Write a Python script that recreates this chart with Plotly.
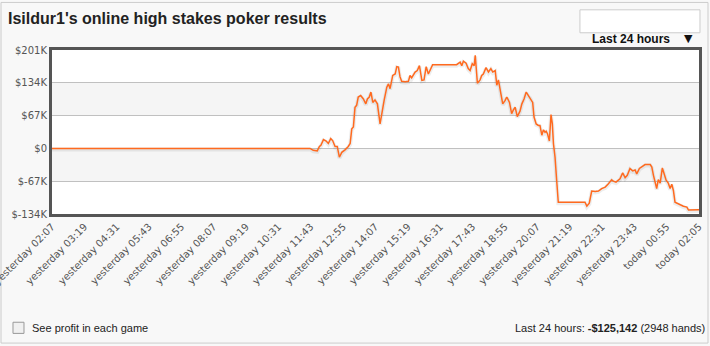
import plotly.graph_objects as go

# hours since "yesterday 02:07"
hours = [0, 9.32, 9.57, 9.69, 9.84, 9.92, 9.97, 10.07, 10.17, 10.25, 10.34, 10.41, 10.50, 10.58,
         10.66, 10.75, 10.87, 10.99, 11.06, 11.12, 11.18, 11.24, 11.30, 11.36, 11.45, 11.55,
         11.64, 11.70, 11.77, 11.83, 11.90, 11.98, 12.07, 12.17, 12.23, 12.32, 12.42, 12.48,
         12.54, 12.64, 12.73, 12.79, 12.85, 12.91, 12.97, 13.10, 13.22, 13.28, 13.34, 13.47,
         13.55, 13.63, 13.72, 13.80, 13.88, 13.96, 14.12, 15.01, 15.14, 15.20, 15.26, 15.36,
         15.44, 15.51, 15.59, 15.66, 15.70, 15.78, 15.88, 15.94, 16.00, 16.10, 16.19, 16.28,
         16.35, 16.44, 16.50, 16.56, 16.65, 16.72, 16.81, 16.87, 16.97, 17.05, 17.11, 17.18,
         17.26, 17.36, 17.43, 17.51, 17.59, 17.67, 17.73, 17.83, 17.88, 17.96, 18.04, 18.10,
         18.17, 18.23, 18.29, 18.33, 18.38, 18.45, 18.51, 18.56, 18.60, 18.66, 18.72, 18.78,
         19.77, 19.84, 19.93, 20.02, 20.15, 20.27, 20.39, 20.52, 20.64, 20.76, 20.82, 20.92,
         21.07, 21.17, 21.26, 21.34, 21.44, 21.54, 21.63, 21.69, 21.79, 21.88, 22.00, 22.19,
         22.25, 22.31, 22.43, 22.49, 22.56, 22.64, 22.71, 22.78, 22.86, 22.93, 22.99, 23.05,
         23.11, 23.24, 23.42, 23.55, 23.61, 24.0]

# cumulative profit, thousands of dollars
profit_k = [0, 0, 0, -4, -5, 4, 6, 18, 15, 10, 20, 16, 4, 4,
            -18, -8, -3, 4, 10, 40, 44, 84, 88, 105, 108, 101,
            91, 101, 105, 115, 94, 99, 91, 50, 71, 98, 125, 132,
            122, 149, 152, 167, 166, 146, 137, 136, 137, 149, 144, 156,
            159, 169, 139, 140, 167, 152, 171, 171, 176, 169, 178, 174,
            163, 159, 173, 169, 190, 133, 140, 149, 152, 165, 156, 163,
            156, 159, 129, 140, 112, 91, 98, 105, 94, 71, 78, 84,
            65, 76, 91, 101, 115, 108, 105, 94, 64, 50, 47, 47,
            27, 38, 33, 35, 30, 15, 69, 50, 10, -18, -65, -110,
            -110, -118, -112, -87, -88, -87, -82, -79, -72, -64, -67, -69,
            -62, -50, -60, -55, -41, -46, -44, -52, -41, -38, -33, -33,
            -38, -55, -82, -64, -71, -40, -55, -65, -71, -82, -73, -86,
            -110, -114, -118, -120, -126, -125.142]

tick_hours = [i * 1.2 for i in range(21)]
tick_labels = ["yesterday 02:07", "yesterday 03:19", "yesterday 04:31", "yesterday 05:43",
               "yesterday 06:55", "yesterday 08:07", "yesterday 09:19", "yesterday 10:31",
               "yesterday 11:43", "yesterday 12:55", "yesterday 14:07", "yesterday 15:19",
               "yesterday 16:31", "yesterday 17:43", "yesterday 18:55", "yesterday 20:07",
               "yesterday 21:19", "yesterday 22:31", "yesterday 23:43", "today 00:55",
               "today 02:05"]
y_ticks = [-134, -67, 0, 67, 134, 201]
y_labels = ["$-134K", "$-67K", "$0", "$67K", "$134K", "$201K"]
bands = [(67, 134), (-67, 0)]

fig = go.Figure()
# soft shadow
fig.add_trace(go.Scatter(x=hours, y=[v - 2 for v in profit_k], mode="lines",
                         line=dict(color="rgba(0,0,0,0.07)", width=4), hoverinfo="skip"))
fig.add_trace(go.Scatter(x=hours, y=profit_k, mode="lines",
                         line=dict(color="#ff6a1f", width=1.5)))

shapes = []
for lo, hi in bands:
    shapes.append(dict(type="rect", xref="paper", yref="y", x0=0, x1=1, y0=lo, y1=hi,
                       fillcolor="#f5f5f5", line=dict(width=0), layer="below"))
# outer panel border
shapes.append(dict(type="rect", xref="paper", yref="paper", x0=-0.0788, x1=1.0139,
                   y0=-0.787, y1=1.29, line=dict(color="#cccccc", width=1), layer="below"))
# dropdown box
shapes.append(dict(type="rect", xref="paper", yref="paper", x0=0.816, x1=1.0015,
                   y0=1.105, y1=1.245, fillcolor="white", line=dict(color="#cccccc", width=1)))
# checkbox
shapes.append(dict(type="rect", xref="paper", yref="paper", x0=-0.0603, x1=-0.0433,
                   y0=-0.728, y1=-0.66, fillcolor="#f0f0f0", line=dict(color="#999999", width=1)))

annotations = [
    dict(text="<b>Isildur1's online high stakes poker results</b>", xref="paper", yref="paper",
         x=-0.0705, y=1.195, xanchor="left", yanchor="middle", showarrow=False,
         font=dict(family="Liberation Sans, Arial", size=16, color="#222222")),
    dict(text="<b>Last 24 hours</b>", xref="paper", yref="paper", x=0.831, y=1.07,
         xanchor="left", yanchor="middle", showarrow=False,
         font=dict(family="Liberation Sans, Arial", size=12, color="#111111")),
    dict(text="▼", xref="paper", yref="paper", x=0.983, y=1.07, xanchor="center",
         yanchor="middle", showarrow=False,
         font=dict(family="DejaVu Sans", size=11, color="#111111")),
    dict(text="See profit in each game", xref="paper", yref="paper", x=-0.034, y=-0.695,
         xanchor="left", yanchor="middle", showarrow=False,
         font=dict(family="Liberation Sans, Arial", size=11, color="#222222")),
    dict(text="Last 24 hours: <b>-$125,142</b> (2948 hands)", xref="paper", yref="paper",
         x=1.013, y=-0.695, xanchor="right", yanchor="middle", showarrow=False,
         font=dict(family="Liberation Sans, Arial", size=11, color="#222222")),
]

fig.update_layout(
    width=710, height=346, margin=dict(l=52, r=11, t=50, b=132, autoexpand=False),
    paper_bgcolor="#f8f8f8", plot_bgcolor="white", showlegend=False,
    shapes=shapes, annotations=annotations,
    xaxis=dict(range=[0, 24], tickvals=tick_hours, ticktext=tick_labels, tickangle=-45,
               showgrid=False, zeroline=False, showline=True, linecolor="#555555",
               linewidth=3, mirror=True, ticks="", ticklabeloverflow="allow",
               automargin=False,
               tickfont=dict(family="DejaVu Sans, Verdana", size=10, color="#555555")),
    yaxis=dict(range=[-134, 201], tickvals=y_ticks, ticktext=y_labels, showgrid=True,
               gridcolor="#c0c0c0", gridwidth=1, zeroline=False, showline=True,
               linecolor="#555555", linewidth=3, mirror=True, ticks="", automargin=False,
               tickfont=dict(family="DejaVu Sans, Verdana", size=10, color="#555555")),
)

fig.write_html("out.html")
